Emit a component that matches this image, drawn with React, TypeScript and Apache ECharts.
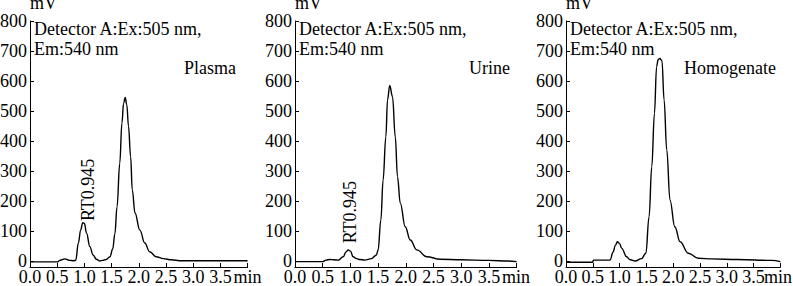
import React, { useEffect, useRef } from "react";
import * as echarts from "echarts";

// ---------- data ----------
const plasmaT = [0, 0.5, 0.55, 0.6, 0.64, 0.68, 0.72, 0.8, 0.84, 0.89, 0.93, 0.97, 1.0, 1.04, 1.1, 1.16, 1.22, 1.28, 1.34, 1.4, 1.47, 1.52, 1.56, 1.6, 1.65, 1.69, 1.72, 1.75, 1.78, 1.81, 1.85, 1.88, 1.93, 2.02, 2.11, 2.2, 2.32, 2.45, 2.6, 2.75, 3.0, 3.5, 4.0];
const plasmaV = [-3, -3, 2, 5, 7, 5, 2, 1, 2, 60, 103, 128, 125, 93, 48, 20, 6, 0, 2, 5, 14, 40, 90, 181, 326, 460, 525, 545, 520, 450, 348, 237, 160, 103, 60, 31, 14, 8, 4, 1, 1, 1, 1];

const urineT = [0, 0.5, 0.56, 0.63, 0.7, 0.78, 0.87, 0.92, 0.96, 1.0, 1.05, 1.11, 1.17, 1.26, 1.38, 1.47, 1.5, 1.55, 1.59, 1.64, 1.67, 1.71, 1.76, 1.81, 1.85, 1.9, 1.99, 2.08, 2.2, 2.38, 2.62, 3.0, 3.5, 3.85, 4.0];
const urineV = [-2, -2, 3, 5, 4, 3, 14, 30, 37, 33, 14, 8, 5, 3, 8, 20, 37, 137, 270, 414, 537, 585, 548, 414, 281, 193, 114, 70, 37, 14, 6, 4, 2, 0, -2];

const homoT = [0, 0.5, 0.51, 0.82, 0.88, 0.92, 0.96, 1.0, 1.04, 1.13, 1.2, 1.29, 1.41, 1.49, 1.55, 1.6, 1.65, 1.69, 1.72, 1.75, 1.79, 1.83, 1.88, 1.94, 2.03, 2.13, 2.28, 2.47, 2.72, 3.2, 3.84, 4.0];
const homoV = [-4, -4, 3, 3, 30, 52, 64, 58, 42, 14, 4, 0, 8, 26, 148, 314, 492, 648, 672, 675, 668, 537, 370, 203, 114, 64, 26, 9, 7, 5, 2, -2];

const yTicks = [0, 100, 200, 300, 400, 500, 600, 700, 800];
const xLabelValues = [0, 0.5, 1.0, 1.5, 2.0, 2.5, 3.0, 3.5];
const xTickValues = [0.5, 1.0, 1.5, 2.0, 2.5, 3.0, 3.5, 4.0];
const xUnit = "min";
const yUnit = "mV";
const sampleNames = ["Plasma", "Urine", "Homogenate"];
const detectorLines = ["Detector A:Ex:505 nm,", "Em:540 nm"];
const rtLabel = "RT0.945";

// ---------- layout ----------
const FONT = "'Liberation Serif', 'Times New Roman', serif";
const FS = 18;
const panels = [
  { left: 30, width: 217.6, nameDx: 154, rt: [1.073, 237] as [number, number] | null },
  { left: 295, width: 221.6, nameDx: 174, rt: [0.993, 163] as [number, number] | null },
  { left: 566, width: 214.4, nameDx: 118, rt: null },
];
const series = [
  { t: plasmaT, v: plasmaV },
  { t: urineT, v: urineV },
  { t: homoT, v: homoV },
];

export default function App() {
  const ref = useRef<HTMLDivElement>(null);
  useEffect(() => {
    if (!ref.current) return;
    const chart = echarts.init(ref.current, undefined, { renderer: "svg" });

    const grids = panels.map((p) => ({
      left: p.left,
      top: 21,
      width: p.width,
      height: 246,
      outerBoundsMode: "none",
      containLabel: false,
    }));

    const xAxes = panels.map((_, i) => ({
      type: "value",
      gridIndex: i,
      min: 0,
      max: 4,
      axisLine: { show: true, onZero: false, lineStyle: { color: "#000", width: 1 } },
      axisTick: { show: true, inside: true, length: 4, customValues: xTickValues, lineStyle: { color: "#000" } },
      axisLabel: {
        show: true,
        customValues: xLabelValues,
        margin: 1,
        fontFamily: FONT,
        fontSize: FS,
        lineHeight: 18,
        color: "#000",
        hideOverlap: false,
        formatter: (v: number) => Number(v).toFixed(1),
      },
      splitLine: { show: false },
    }));

    const yAxes = panels.map((_, i) => ({
      type: "value",
      gridIndex: i,
      min: -20,
      max: 800,
      name: yUnit,
      nameLocation: "end",
      nameGap: 11,
      nameTextStyle: { fontFamily: FONT, fontSize: FS, color: "#000", align: "left", verticalAlign: "middle" },
      axisLine: { show: true, onZero: false, lineStyle: { color: "#000", width: 1 } },
      axisTick: { show: true, inside: true, length: 4, customValues: yTicks, lineStyle: { color: "#000" } },
      axisLabel: { show: true, customValues: yTicks, margin: 3, fontFamily: FONT, fontSize: FS, color: "#000" },
      splitLine: { show: false },
    }));

    const seriesOpt = series.map((s, i) => ({
      type: "line",
      xAxisIndex: i,
      yAxisIndex: i,
      data: s.t.map((t, k) => [t, s.v[k]]),
      showSymbol: false,
      symbol: "none",
      smooth: 0.4,
      smoothMonotone: "x",
      lineStyle: { color: "#000", width: 1.4 },
      silent: true,
    }));

    chart.setOption({
      animation: false,
      backgroundColor: "#fff",
      textStyle: { fontFamily: FONT, fontSize: FS, color: "#000" },
      grid: grids,
      xAxis: xAxes,
      yAxis: yAxes,
      series: seriesOpt,
    });

    const font = `${FS}px ${FONT}`;
    const graphics: any[] = [];
    panels.forEach((p, i) => {
      detectorLines.forEach((line, k) => {
        graphics.push({
          type: "text",
          x: p.left + 4,
          y: 29 + k * 20,
          style: { text: line, font, fill: "#000", textAlign: "left", textVerticalAlign: "middle" },
        });
      });
      graphics.push({
        type: "text",
        x: p.left + p.nameDx,
        y: 68,
        style: { text: sampleNames[i], font, fill: "#000", textAlign: "left", textVerticalAlign: "middle" },
      });
      // unit "min" right after the last tick label
      const lastPx = chart.convertToPixel({ gridIndex: i }, [xLabelValues[xLabelValues.length - 1], -20]) as number[];
      graphics.push({
        type: "text",
        x: Math.min(lastPx[0] + 13, 764),
        y: lastPx[1] + 1,
        style: { text: xUnit, font, lineHeight: 18, fill: "#000", textAlign: "left", textVerticalAlign: "top" },
      });
      if (p.rt) {
        const px = chart.convertToPixel({ gridIndex: i }, p.rt) as number[];
        graphics.push({
          type: "text",
          x: px[0],
          y: px[1],
          rotation: Math.PI / 2,
          style: { text: rtLabel, font, fill: "#000", textAlign: "center", textVerticalAlign: "middle" },
        });
      }
    });
    chart.setOption({ graphic: graphics });

    return () => chart.dispose();
  }, []);

  return (
    <div
      ref={ref}
      style={{ position: "fixed", left: 0, top: 0, width: 793, height: 286, background: "#fff" }}
    />
  );
}
